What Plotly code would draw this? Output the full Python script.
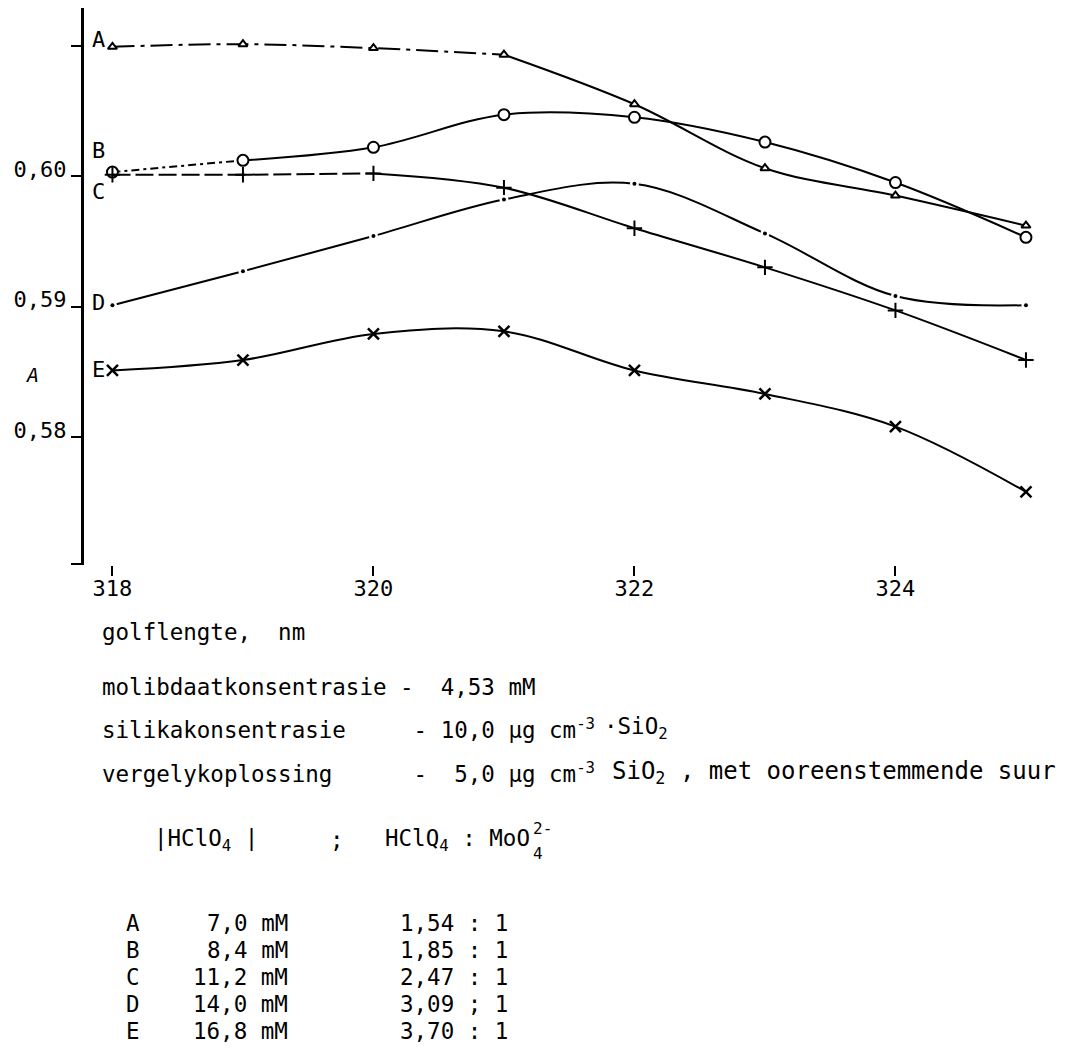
import plotly.graph_objects as go

# Wavelength (nm) and absorbance readings for the five perchloric acid levels
wavelength = [318, 319, 320, 321, 322, 323, 324, 325]
abs_A = [0.6099, 0.6101, 0.6098, 0.6093, 0.6055, 0.6006, 0.5985, 0.5962]
abs_B = [0.6003, 0.6012, 0.6022, 0.6047, 0.6045, 0.6026, 0.5995, 0.5953]
abs_C = [0.6001, 0.6001, 0.6002, 0.5991, 0.5960, 0.5930, 0.5897, 0.5859]
abs_D = [0.5901, 0.5927, 0.5954, 0.5982, 0.5994, 0.5956, 0.5908, 0.5901]
abs_E = [0.5851, 0.5859, 0.5879, 0.5881, 0.5851, 0.5833, 0.5808, 0.5758]

x_ticks = [318, 320, 322, 324]
y_ticks = [0.5703, 0.58, 0.59, 0.60, 0.61]
y_tick_text = ["", "0,58", "0,59", "0,60", ""]

# Key table below the chart
series_names = ["A", "B", "C", "D", "E"]
hclo4_conc = ["7,0 mM", "8,4 mM", "11,2 mM", "14,0 mM", "16,8 mM"]
acid_ratio = ["1,54 : 1", "1,85 : 1", "2,47 : 1", "3,09 ; 1", "3,70 : 1"]

FONT = "DejaVu Sans Mono"
TXT = 22.5
W, H = 1068, 1049
ML, MR, MT, MB = 84, 8, 8, 484
PW, PH = W - ML - MR, H - MT - MB


def px(x):
    return (x - ML) / PW


def py(y):
    return (H - MB - y) / PH


fig = go.Figure()
black = "black"


def curve(xs, ys, dash="solid"):
    fig.add_trace(go.Scatter(
        x=xs, y=ys, mode="lines",
        line=dict(color=black, width=2, shape="spline", smoothing=1.0, dash=dash),
        hoverinfo="skip", showlegend=False))


def points(xs, ys, symbol, size, fill="white", lw=2):
    fig.add_trace(go.Scatter(
        x=xs, y=ys, mode="markers",
        marker=dict(symbol=symbol, size=size, color=fill,
                    line=dict(color=black, width=lw)),
        hoverinfo="skip", showlegend=False))


# A: dash-dot at the start, solid beyond 321 nm
curve(wavelength[:4], abs_A[:4], dash="22px,6px,4px,6px")
curve(wavelength[3:], abs_A[3:])
points(wavelength, abs_A, "triangle-up", 8)

# B
curve(wavelength[:2], abs_B[:2], dash="8px,4px,3px,4px")
curve(wavelength[1:], abs_B[1:])
points(wavelength, abs_B, "circle", 11)

# C
curve(wavelength[:3], abs_C[:3], dash="18px,5px")
curve(wavelength[2:], abs_C[2:])
points(wavelength, abs_C, "cross-thin", 11, fill=black, lw=2)

# D: small dots with a little gap in the line around each one
curve(wavelength, abs_D)
fig.add_trace(go.Scatter(x=wavelength, y=abs_D, mode="markers",
                         marker=dict(symbol="circle", size=9, color="white"),
                         hoverinfo="skip", showlegend=False))
fig.add_trace(go.Scatter(x=wavelength, y=abs_D, mode="markers",
                         marker=dict(symbol="circle", size=4, color=black),
                         hoverinfo="skip", showlegend=False))

# E
curve(wavelength, abs_E)
points(wavelength, abs_E, "x-thin", 11, fill=black, lw=2.5)

ann = []


def text(x, y, s, size=TXT, anchor="left", italic=False):
    ann.append(dict(x=px(x), y=py(y), xref="paper", yref="paper", text=s,
                    showarrow=False, xanchor=anchor, yanchor="middle",
                    font=dict(family=FONT, size=size, color=black,
                              style="italic" if italic else "normal")))


# Curve letters beside the first points
for name, yy in zip(series_names, [40, 150, 191, 302, 370]):
    text(98, yy, name, size=22, anchor="center")

# Ordinate symbol (absorbance)
text(32, 375, "A", size=20, anchor="center", italic=True)

nb = "\u00a0"
text(100, 632, "golflengte," + nb * 2 + "nm")
text(100, 687, "molibdaatkonsentrasie" + nb + "-" + nb * 2 + "4,53 mM")
text(100, 728, "silikakonsentrasie" + nb * 5 + "-" + nb + "10,0 μg cm<sup>-3</sup>")
text(602, 728, "·SiO<sub>2</sub>")
text(100, 772, "vergelykoplossing" + nb * 6 + "-" + nb * 2 + "5,0 μg cm<sup>-3</sup>")
text(610, 772, "SiO<sub>2</sub> , met ooreenstemmende suur", size=24)

# Column heads of the key
text(152, 840, "|HClO<sub>4</sub>" + nb + "|")
text(328, 840, ";")
text(383, 840, "HClQ<sub>4</sub> : MoO")
text(531, 829, "2-", size=16)
text(531, 853, "4", size=16)

row_y = [923, 950, 977, 1004, 1031]
for name, conc, ratio, yy in zip(series_names, hclo4_conc, acid_ratio, row_y):
    text(124, yy, name)
    text(290, yy, conc, anchor="right")
    text(398, yy, ratio)

fig.update_layout(
    width=W, height=H,
    margin=dict(l=ML, r=MR, t=MT, b=MB),
    paper_bgcolor="white", plot_bgcolor="white",
    annotations=ann,
    font=dict(family=FONT, size=22, color=black),
    xaxis=dict(range=[317.782, 317.782 + PW / 130.5], tickvals=x_ticks,
               ticks="outside", ticklen=10, tickwidth=2, tickcolor=black,
               showline=False, showgrid=False, zeroline=False,
               ticklabelstandoff=-6,
               tickfont=dict(family=FONT, size=22, color=black)),
    yaxis=dict(range=[0.570192, 0.612874], tickvals=y_ticks, ticktext=y_tick_text,
               ticks="outside", ticklen=10, tickwidth=2, tickcolor=black,
               showline=True, linewidth=3, linecolor=black,
               showgrid=False, zeroline=False, ticklabelshift=-7,
               tickfont=dict(family=FONT, size=22, color=black)),
)

fig.write_html("out.html")
